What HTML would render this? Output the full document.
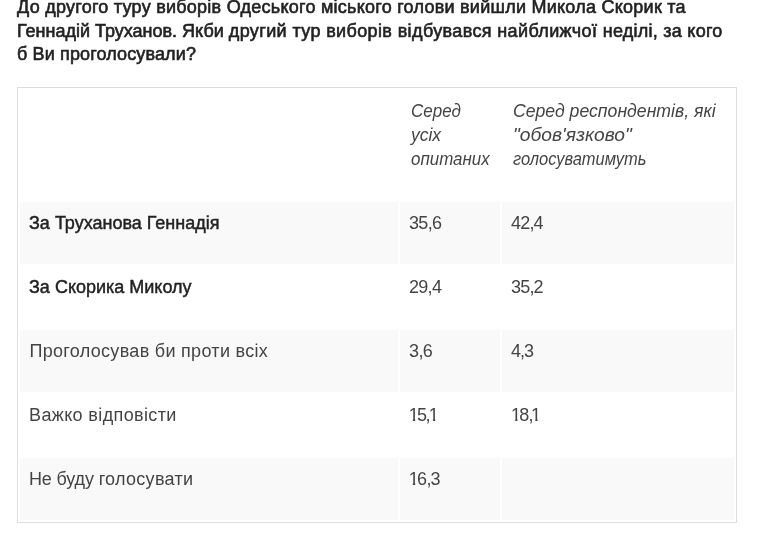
<!DOCTYPE html>
<html lang="uk">
<head>
<meta charset="utf-8">
<title>Опитування</title>
<style>
html,body{margin:0;padding:0;background:#fff;}
body{width:763px;height:535px;overflow:hidden;position:relative;
  font-family:"Liberation Sans",sans-serif;font-size:18px;color:#444;}
.layer{position:absolute;left:0;top:0;width:763px;height:535px;will-change:transform;}
.q{position:absolute;left:17px;top:-4px;margin:0;white-space:nowrap;
  font-weight:normal;font-size:18px;line-height:23.6px;color:#222;
  -webkit-text-stroke:.6px #222;letter-spacing:.25px;}
.q>span{display:block;}
table{position:absolute;left:17px;top:87px;width:720px;height:436px;
  border:1px solid #ddd;border-collapse:separate;border-spacing:2px;
  table-layout:fixed;box-sizing:border-box;}
td{padding:9px 10px 29px 10px;vertical-align:top;text-align:left;
  line-height:24px;font-size:18px;font-weight:normal;white-space:nowrap;overflow:hidden;}
tr.s td{background:#f9f9f9;}
tr.h td{height:72px;font-style:italic;padding-left:11px;}
tr.h span{display:block;transform-origin:0 0;}
tr.r td{height:24px;}
td.n .o{display:inline-block;letter-spacing:0;clip-path:polygon(0 0,100% 0,100% 16px,6.5px 16px,6.5px 100%,4.2px 100%,4.2px 16px,0 16px);}
td b{font-weight:normal;color:#222;-webkit-text-stroke:.45px #222;}
td.n{letter-spacing:-.7px;}
tr.r td{padding-left:9px;}
</style>
</head>
<body><div class="layer">
<p class="q"><span>До другого туру виборів Одеського міського голови вийшли Микола Скорик та</span><span><span style="letter-spacing:0">Геннадій Труханов. Якби </span><span style="letter-spacing:.377px">другий тур виборів відбувався найближчої </span>неділі, за кого</span><span style="letter-spacing:.13px">б Ви проголосували?</span></p>
<table>
<colgroup><col style="width:378px"><col style="width:100px"><col style="width:232px"></colgroup>
<tr class="h"><td></td><td><span style="transform:scaleX(.945)">Серед</span><span style="transform:scaleX(.97)">усіх</span><span style="transform:scaleX(.94)">опитаних</span></td><td><span style="transform:scaleX(.98)">Серед респондентів, які</span><span style="transform:scaleX(1.068)">"обов'язково"</span><span style="transform:scaleX(.915)">голосуватимуть</span></td></tr>
<tr class="r s"><td><b>За Труханова Геннадія</b></td><td class="n" style="letter-spacing:-.67px">35,6</td><td class="n" style="letter-spacing:-.8px">42,4</td></tr>
<tr class="r"><td><b>За Скорика Миколу</b></td><td class="n" style="letter-spacing:-.7px">29,4</td><td class="n" style="letter-spacing:-.8px">35,2</td></tr>
<tr class="r s"><td style="letter-spacing:.3px;padding-left:9.5px">Проголосував би проти всіх</td><td class="n" style="letter-spacing:-.6px">3,6</td><td class="n" style="letter-spacing:-1px">4,3</td></tr>
<tr class="r"><td style="letter-spacing:.37px">Важко відповісти</td><td class="n" style="letter-spacing:0"><span class="o" style="margin-left:-.3px;margin-right:-1.7px">1</span><span style="letter-spacing:-1.5px">5</span><span style="letter-spacing:-1.85px">,</span><span class="o">1</span></td><td class="n" style="letter-spacing:0"><span class="o" style="margin-right:-1.7px">1</span><span style="letter-spacing:-.85px">8</span><span style="letter-spacing:-2.4px">,</span><span class="o">1</span></td></tr>
<tr class="r s"><td style="letter-spacing:.29px"><span style="letter-spacing:-.15px">Не буду </span>голосувати</td><td class="n" style="letter-spacing:0"><span class="o" style="margin-left:-.3px;margin-right:-1.85px">1</span><span style="letter-spacing:-.5px">6</span><span style="letter-spacing:-.8px">,</span>3</td><td></td></tr>
</table>
</div></body>
</html>
